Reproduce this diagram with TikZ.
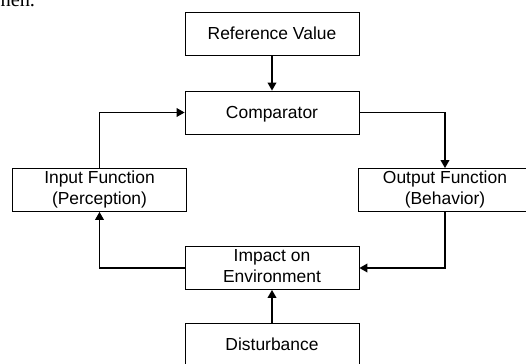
\documentclass[tikz,border=0pt]{standalone}
\usepackage{fontspec}
\setmainfont{Liberation Sans}
\newfontfamily\seriffont{Liberation Serif}
\usetikzlibrary{positioning, arrows.meta}

\newcommand{\bstrut}{\rule[-2.7pt]{0pt}{14.3pt}}

\begin{document}
\begin{tikzpicture}[>={Triangle[width=2.2mm,length=2mm]},line width=0.8pt,
        block/.style={rectangle,draw=black,line width=0.6pt,minimum width=4.35cm,minimum height=1.075cm,
                      inner sep=1pt,align=center,font=\fontsize{12.4}{14.9}\selectfont,
                      execute at begin node=\bstrut,execute at end node=\bstrut}]

        \useasboundingbox (0,0) rectangle (13.15,9.1);

        % text of the page above, cut by the frame
        \node[anchor=base west,inner sep=0pt,font=\seriffont\fontsize{14.5}{16}\selectfont] (prev) at (0,8.925) {hen.};

        \node[block] (ref)    at (6.8,8.2625)    {Reference Value};
        \node[block] (comp)   at (6.8,6.2875)    {Comparator};
        \node[block] (input)  at (2.4875,4.35)   {Input Function\\(Perception)};
        \node[block] (output) at (11.125,4.35)   {Output Function\\(Behavior)};
        \node[block] (impact) at (6.8,2.4)       {Impact on\\Environment};
        \node[block] (dist)   at (6.8,0.4875)    {Disturbance};

        \draw[->] (ref)    -- (comp);
        \draw[->] (comp.east)  -| (output.north);
        \draw[->] (output.south) |- (impact.east);
        \draw[->] (impact.west) -| (input.south);
        \draw[->] (input.north) |- (comp.west);
        \draw[->] (dist)   -- (impact);
\end{tikzpicture}
\end{document}
